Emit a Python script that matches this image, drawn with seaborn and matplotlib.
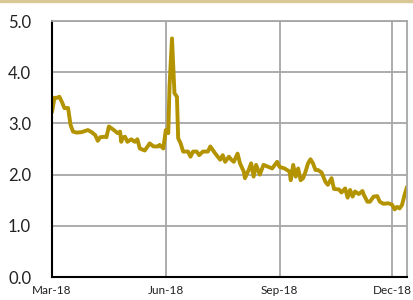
import pandas as pd
import matplotlib.pyplot as plt
import matplotlib.dates as mdates
import seaborn as sns

# values
dates = [
    "2018-03-01", "2018-03-03", "2018-03-05", "2018-03-07", "2018-03-09", "2018-03-11",
    "2018-03-14", "2018-03-16", "2018-03-18", "2018-03-21", "2018-03-25", "2018-03-30",
    "2018-04-02", "2018-04-05", "2018-04-07", "2018-04-09", "2018-04-13", "2018-04-14",
    "2018-04-16", "2018-04-20", "2018-04-23", "2018-04-25", "2018-04-26", "2018-04-27",
    "2018-04-29", "2018-05-01", "2018-05-04", "2018-05-07", "2018-05-09", "2018-05-11",
    "2018-05-15", "2018-05-19", "2018-05-22", "2018-05-26", "2018-05-27", "2018-05-30",
    "2018-06-01", "2018-06-03", "2018-06-04", "2018-06-06", "2018-06-08", "2018-06-10",
    "2018-06-11", "2018-06-13", "2018-06-15", "2018-06-19", "2018-06-21", "2018-06-23",
    "2018-06-26", "2018-06-28", "2018-07-01", "2018-07-05", "2018-07-07", "2018-07-11",
    "2018-07-13", "2018-07-15", "2018-07-17", "2018-07-19", "2018-07-22", "2018-07-24",
    "2018-07-26", "2018-07-29", "2018-07-31", "2018-08-03", "2018-08-04", "2018-08-07",
    "2018-08-09", "2018-08-11", "2018-08-13", "2018-08-16", "2018-08-19", "2018-08-23",
    "2018-08-26", "2018-08-30", "2018-09-01", "2018-09-05", "2018-09-09", "2018-09-10",
    "2018-09-12", "2018-09-14", "2018-09-16", "2018-09-18", "2018-09-20", "2018-09-22",
    "2018-09-24", "2018-09-26", "2018-09-28", "2018-09-30", "2018-10-02", "2018-10-05",
    "2018-10-08", "2018-10-10", "2018-10-13", "2018-10-15", "2018-10-19", "2018-10-21",
    "2018-10-24", "2018-10-26", "2018-10-28", "2018-10-30", "2018-11-01", "2018-11-04",
    "2018-11-07", "2018-11-08", "2018-11-11", "2018-11-13", "2018-11-16", "2018-11-19",
    "2018-11-21", "2018-11-24", "2018-11-28", "2018-12-01", "2018-12-03", "2018-12-05",
    "2018-12-07", "2018-12-09", "2018-12-11", "2018-12-13",
]
values = [
    3.22, 3.50, 3.50, 3.52, 3.42, 3.30,
    3.30, 2.97, 2.84, 2.82, 2.83, 2.87,
    2.83, 2.77, 2.66, 2.73, 2.74, 2.73,
    2.94, 2.87, 2.81, 2.84, 2.64, 2.72,
    2.74, 2.64, 2.69, 2.64, 2.69, 2.51,
    2.47, 2.61, 2.55, 2.55, 2.58, 2.51,
    2.87, 2.81, 3.72, 4.66, 3.59, 3.52,
    2.71, 2.61, 2.45, 2.45, 2.35, 2.45,
    2.45, 2.38, 2.45, 2.45, 2.55, 2.41,
    2.35, 2.29, 2.38, 2.25, 2.35, 2.29,
    2.25, 2.41, 2.22, 2.06, 1.93, 2.09,
    2.22, 1.96, 2.19, 2.00, 2.19, 2.15,
    2.12, 2.25, 2.15, 2.12, 2.06, 1.89,
    2.19, 1.96, 2.12, 1.89, 1.93, 2.06,
    2.22, 2.30, 2.22, 2.09, 2.09, 2.04,
    1.86, 1.80, 1.93, 1.72, 1.71, 1.65,
    1.73, 1.55, 1.70, 1.57, 1.67, 1.62,
    1.68, 1.61, 1.47, 1.47, 1.57, 1.58,
    1.47, 1.43, 1.44, 1.41, 1.32, 1.37,
    1.34, 1.41, 1.60, 1.76,
]
tick_dates = ["2018-03-01", "2018-06-01", "2018-09-01", "2018-12-01"]
y_ticks = [0.0, 1.0, 2.0, 3.0, 4.0, 5.0]

df = pd.DataFrame({"date": pd.to_datetime(dates), "value": values})

sns.set_style("white")
plt.rcParams["font.family"] = ["Lato", "DejaVu Sans"]

fig = plt.figure(figsize=(4.13, 3.0), dpi=100)
ax = fig.add_axes([52 / 413, 23 / 300, 355 / 413, 256 / 300])

# thin tan band along the top
fig.patches.append(plt.Rectangle((0, 0.992), 1, 0.008, transform=fig.transFigure,
                                 color="#d9c894", zorder=0))

sns.lineplot(data=df, x="date", y="value", ax=ax, color="#b39400", linewidth=2.8)

ax.set_xlim(pd.Timestamp("2018-03-01"), pd.Timestamp("2018-12-13"))
ax.set_ylim(0, 5)
ax.set_yticks(y_ticks)
ax.set_yticklabels([f"{v:.1f}" for v in y_ticks], fontsize=12, color="#222222")
ax.set_xticks(pd.to_datetime(tick_dates))
ax.xaxis.set_major_formatter(mdates.DateFormatter("%b-%y"))
ax.tick_params(axis="x", labelsize=8.5, colors="#222222", length=3, width=1, pad=3)
ax.tick_params(axis="y", length=4, width=1.2, pad=11, color="black")
ax.tick_params(axis="x", color="black")
ax.set_xlabel("")
ax.set_ylabel("")

ax.grid(True, color="#a6a6a6", linewidth=1.3)
for side in ["top", "right"]:
    ax.spines[side].set_color("#a6a6a6")
    ax.spines[side].set_linewidth(1.3)
for side in ["left", "bottom"]:
    ax.spines[side].set_color("black")
    ax.spines[side].set_linewidth(1.5)
ax.set_axisbelow(True)

plt.savefig("out.png", dpi=100, facecolor="white")
